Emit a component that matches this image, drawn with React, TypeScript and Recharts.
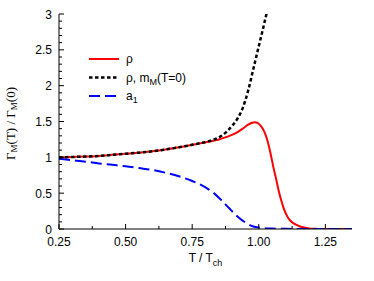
import { Line, LineChart, XAxis, YAxis } from 'recharts'

// ── Data ──────────────────────────────────────────────────────────────────────

const rhoT = [
  0.25, 0.3, 0.35, 0.4, 0.45, 0.5, 0.55, 0.6, 0.65, 0.7, 0.75, 0.8, 0.85, 0.88, 0.91, 0.94, 0.96,
  0.975, 0.985, 0.995, 1.005, 1.015, 1.025, 1.035, 1.045, 1.055, 1.065, 1.075, 1.085, 1.095, 1.105,
  1.115, 1.125, 1.14, 1.155, 1.17, 1.19, 1.21, 1.24, 1.3, 1.35,
]
const rhoVals = [
  1.0, 1.005, 1.01, 1.02, 1.035, 1.05, 1.065, 1.085, 1.11, 1.14, 1.175, 1.21, 1.25, 1.285, 1.33,
  1.4, 1.455, 1.482, 1.49, 1.48, 1.45, 1.4, 1.32, 1.2, 1.04, 0.86, 0.7, 0.53, 0.39, 0.275, 0.19,
  0.13, 0.095, 0.06, 0.035, 0.02, 0.008, 0.003, 0, 0, 0,
]

const rhoFixedT = [
  0.25, 0.3, 0.35, 0.4, 0.45, 0.5, 0.55, 0.6, 0.65, 0.7, 0.75, 0.8, 0.83, 0.86, 0.88, 0.9, 0.92,
  0.94, 0.96, 0.98, 1.0, 1.015, 1.03,
]
const rhoFixedVals = [
  1.0, 1.005, 1.01, 1.02, 1.035, 1.05, 1.065, 1.085, 1.11, 1.14, 1.175, 1.215, 1.245, 1.3, 1.36,
  1.44, 1.54, 1.69, 1.93, 2.24, 2.55, 2.78, 3.02,
]

const a1T = [
  0.25, 0.3, 0.35, 0.4, 0.45, 0.5, 0.55, 0.6, 0.65, 0.7, 0.75, 0.8, 0.83, 0.86, 0.89, 0.92, 0.95,
  0.98, 1.0, 1.05, 1.1, 1.2, 1.35,
]
const a1Vals = [
  0.98, 0.96, 0.94, 0.915, 0.895, 0.875, 0.85, 0.825, 0.785, 0.735, 0.67, 0.58, 0.505, 0.4, 0.285,
  0.175, 0.09, 0.035, 0.02, 0.006, 0.002, 0, 0,
]

const xTicks = [0.25, 0.375, 0.5, 0.625, 0.75, 0.875, 1.0, 1.125, 1.25]
const xMajor = [0.25, 0.5, 0.75, 1.0, 1.25]
const yTicks = [
  0, 0.1, 0.2, 0.3, 0.4, 0.5, 0.6, 0.7, 0.8, 0.9, 1, 1.1, 1.2, 1.3, 1.4, 1.5, 1.6, 1.7, 1.8, 1.9,
  2, 2.1, 2.2, 2.3, 2.4, 2.5, 2.6, 2.7, 2.8, 2.9, 3,
]
const yMajor = [0, 0.5, 1, 1.5, 2, 2.5, 3]

const rhoData = rhoT.map((t, i) => ({ t, v: rhoVals[i] }))
const rhoFixedData = rhoFixedT.map((t, i) => ({ t, v: rhoFixedVals[i] }))
const a1Data = a1T.map((t, i) => ({ t, v: a1Vals[i] }))

// ── Styles ────────────────────────────────────────────────────────────────────

const SANS = '"Liberation Sans", Arial, Helvetica, sans-serif'
const SERIF = '"Liberation Serif", "Times New Roman", serif'
const MAJOR = 5
const MINOR = 3

const isMajor = (list: number[], v: number) => list.some((m) => Math.abs(m - v) < 1e-6)

// ── Ticks ─────────────────────────────────────────────────────────────────────

function BottomTick({ x, y, payload }: any) {
  const major = isMajor(xMajor, payload.value)
  return (
    <g>
      <line x1={x} x2={x} y1={y} y2={y - (major ? MAJOR : MINOR)} stroke="#000" />
      {major && (
        <text x={x} y={y + 17} textAnchor="middle" fontSize={12} fontFamily={SANS} fill="#000">
          {payload.value.toFixed(2)}
        </text>
      )}
    </g>
  )
}

function TopTick({ x, y, payload }: any) {
  const major = isMajor(xMajor, payload.value)
  return <line x1={x} x2={x} y1={y} y2={y + (major ? MAJOR : MINOR)} stroke="#000" />
}

function LeftTick({ x, y, payload }: any) {
  const major = isMajor(yMajor, payload.value)
  return (
    <g>
      <line x1={x} x2={x + (major ? MAJOR : MINOR)} y1={y} y2={y} stroke="#000" />
      {major && (
        <text x={x - 7} y={y + 4.5} textAnchor="end" fontSize={12} fontFamily={SANS} fill="#000">
          {String(payload.value)}
        </text>
      )}
    </g>
  )
}

function RightTick({ x, y, payload }: any) {
  const major = isMajor(yMajor, payload.value)
  return <line x1={x} x2={x - (major ? MAJOR : MINOR)} y1={y} y2={y} stroke="#000" />
}

// ── Legend ────────────────────────────────────────────────────────────────────

function ChartLegend() {
  const rows = [
    { color: '#ff0000', dash: undefined, width: 2 },
    { color: '#000000', dash: '3.5 2.5', width: 2.5 },
    { color: '#0000ff', dash: '11 5', width: 2 },
  ]
  return (
    <svg width={200} height={60} style={{ display: 'block' }}>
      {rows.map((r, i) => (
        <line
          key={i}
          x1={0}
          x2={30}
          y1={8 + i * 18.5}
          y2={8 + i * 18.5}
          stroke={r.color}
          strokeWidth={r.width}
          strokeDasharray={r.dash}
        />
      ))}
      <text x={37} y={12} fontSize={12} fontFamily={SANS} fill="#000">
        ρ
      </text>
      <text x={37} y={30.5} fontSize={12} fontFamily={SANS} fill="#000">
        ρ, m<tspan dy={3} fontSize={9}>M</tspan>
        <tspan dy={-3}>(T=0)</tspan>
      </text>
      <text x={37} y={49} fontSize={12} fontFamily={SANS} fill="#000">
        a<tspan dy={3} fontSize={9}>1</tspan>
      </text>
    </svg>
  )
}

// ── Chart ─────────────────────────────────────────────────────────────────────

export default function App() {
  return (
    <div style={{ position: 'absolute', left: 0, top: 0, width: 374, height: 281, background: '#fff' }}>
      <LineChart width={374} height={281} margin={{ top: 14, right: 22, left: 0, bottom: 0 }}>
        <XAxis
          xAxisId="b"
          type="number"
          dataKey="t"
          domain={[0.25, 1.35]}
          allowDataOverflow
          ticks={xTicks}
          interval={0}
          height={52}
          tickSize={0}
          tickMargin={0}
          tick={<BottomTick />}
          axisLine={{ stroke: '#000' }}
          tickLine={false}
          label={{
            content: ({ viewBox }: any) => (
              <text
                x={viewBox.x + viewBox.width / 2}
                y={viewBox.y + 33}
                textAnchor="middle"
                fontSize={12}
                fontFamily={SANS}
                fill="#000"
              >
                T / T<tspan dy={3.5} fontSize={9}>ch</tspan>
              </text>
            ),
          }}
        />
        <XAxis
          xAxisId="t"
          orientation="top"
          type="number"
          dataKey="t"
          domain={[0.25, 1.35]}
          allowDataOverflow
          ticks={xTicks}
          interval={0}
          height={0}
          tickSize={0}
          tickMargin={0}
          tick={<TopTick />}
          axisLine={{ stroke: '#000' }}
          tickLine={false}
        />
        <YAxis
          yAxisId="l"
          type="number"
          domain={[0, 3]}
          allowDataOverflow
          ticks={yTicks}
          interval={0}
          width={59}
          tickSize={0}
          tickMargin={0}
          tick={<LeftTick />}
          axisLine={{ stroke: '#000' }}
          tickLine={false}
          label={{
            content: ({ viewBox }: any) => {
              const cx = 12
              const cy = viewBox.y + viewBox.height / 2 + 2
              return (
                <text
                  x={cx}
                  y={cy}
                  transform={`rotate(-90 ${cx} ${cy})`}
                  textAnchor="middle"
                  dominantBaseline="middle"
                  fontSize={13}
                  fontFamily={SERIF}
                  fill="#000"
                >
                  Γ<tspan dy={3} fontSize={9}>M</tspan>
                  <tspan dy={-3}>(T) / Γ</tspan>
                  <tspan dy={3} fontSize={9}>M</tspan>
                  <tspan dy={-3}>(0)</tspan>
                </text>
              )
            },
          }}
        />
        <YAxis
          yAxisId="r"
          orientation="right"
          type="number"
          domain={[0, 3]}
          allowDataOverflow
          ticks={yTicks}
          interval={0}
          width={0}
          tickSize={0}
          tickMargin={0}
          tick={<RightTick />}
          axisLine={{ stroke: '#000' }}
          tickLine={false}
        />
        <Line
          xAxisId="b"
          yAxisId="l"
          data={rhoData}
          dataKey="v"
          type="monotone"
          stroke="#ff0000"
          strokeWidth={2}
          dot={false}
          isAnimationActive={false}
        />
        <Line
          xAxisId="b"
          yAxisId="l"
          data={a1Data}
          dataKey="v"
          type="monotone"
          stroke="#0000ff"
          strokeWidth={2}
          strokeDasharray="11 5"
          dot={false}
          isAnimationActive={false}
        />
        <Line
          xAxisId="b"
          yAxisId="l"
          data={rhoFixedData}
          dataKey="v"
          type="monotone"
          stroke="#000000"
          strokeWidth={2.5}
          strokeDasharray="3.5 2.5"
          dot={false}
          isAnimationActive={false}
        />
      </LineChart>
      <div style={{ position: 'absolute', left: 89, top: 51 }}>
        <ChartLegend />
      </div>
    </div>
  )
}
